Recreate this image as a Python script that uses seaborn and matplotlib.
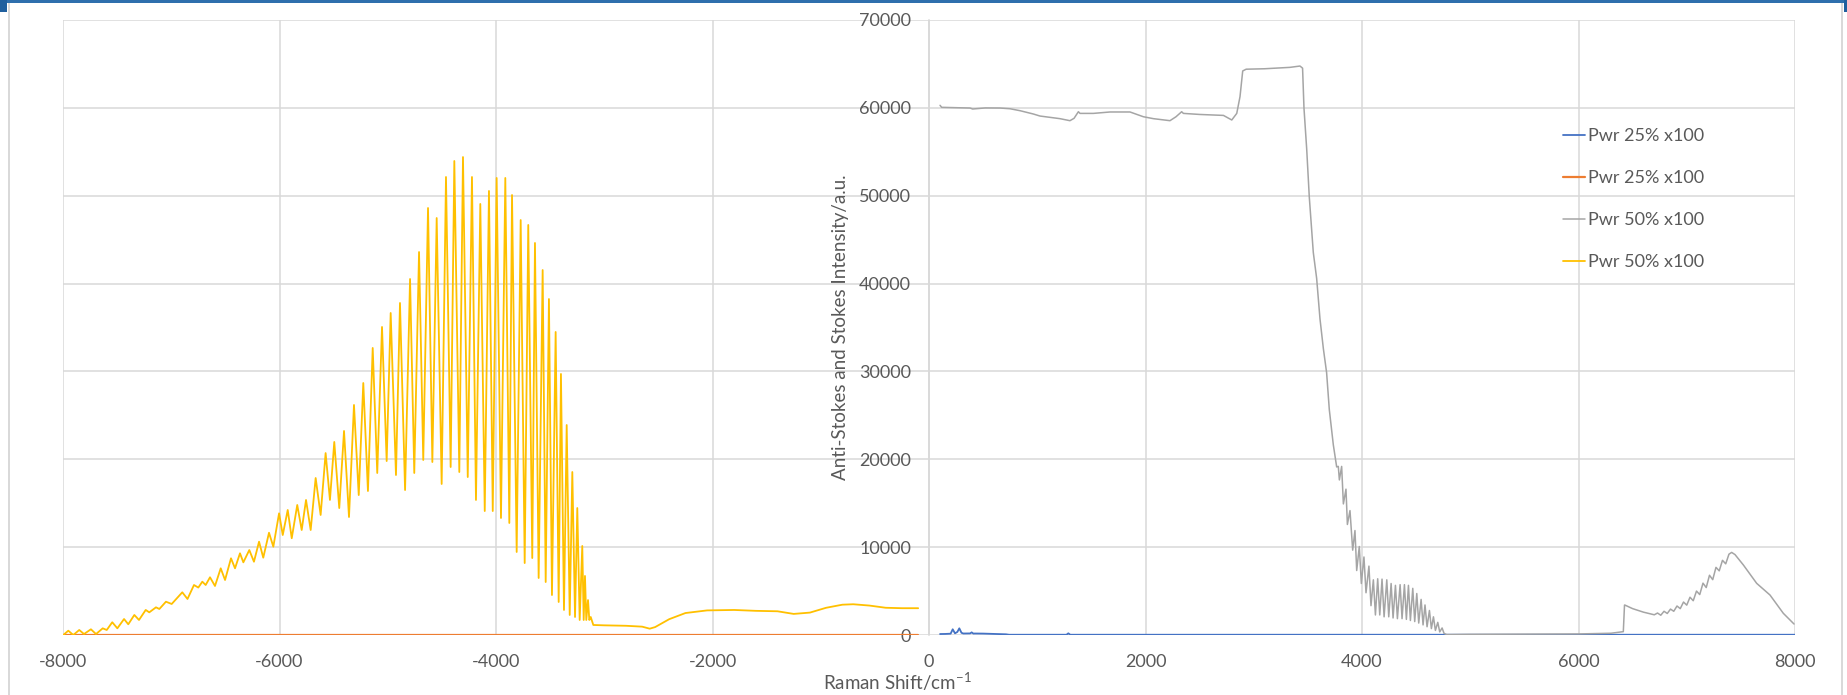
import matplotlib
matplotlib.use("Agg")
import matplotlib.pyplot as plt
import seaborn as sns
from matplotlib.patches import Rectangle

# ---- spectra (Raman shift in cm^-1, intensity in a.u.) ----
# Stokes side, power 25 %
s25_shift = [102, 150, 200, 219, 240, 262, 280, 300, 317, 380, 394, 410, 425, 500,
             711, 740, 1000, 1270, 1287, 1305, 2000, 4000, 6000, 8000]
s25_int = [110, 120, 150, 650, 190, 350, 760, 250, 170, 180, 300, 160, 170, 160,
           80, 30, 30, 30, 190, 30, 30, 30, 30, 30]

# anti-Stokes side, power 25 %
as25_shift = [-8000, -6000, -4000, -2000, -100]
as25_int = [30, 30, 30, 30, 30]

# Stokes side, power 50 %
s50_shift = [102, 117, 250, 379, 403, 520, 656, 748, 840, 964, 1025, 1210, 1302, 1340,
             1380, 1395, 1518, 1672, 1857, 1980, 2073, 2226, 2282, 2334, 2350, 2500,
             2720, 2797, 2843, 2873, 2898, 2930, 3100, 3335, 3427, 3451, 3464, 3489,
             3513, 3550, 3581, 3612, 3643, 3673, 3698, 3735, 3766, 3781, 3791, 3812,
             3828, 3852, 3865, 3889, 3914, 3935, 3951, 3975, 3994, 4018, 4037, 4064,
             4083, 4105, 4124, 4145, 4164, 4185, 4204, 4229, 4247, 4269, 4287, 4309,
             4327, 4352, 4370, 4392, 4410, 4429, 4447, 4469, 4487, 4506, 4524, 4546,
             4564, 4582, 4601, 4623, 4641, 4660, 4678, 4700, 4718, 4740, 4758, 4782,
             5000, 5500, 6000, 6122, 6300, 6414, 6425, 6430, 6500, 6600, 6700, 6730,
             6760, 6790, 6820, 6850, 6880, 6910, 6940, 6970, 7000, 7030, 7060, 7090,
             7120, 7150, 7180, 7210, 7240, 7270, 7300, 7330, 7360, 7390, 7415, 7446,
             7523, 7646, 7769, 7892, 7991]
s50_int = [60290, 60060, 60020, 59980, 59870, 59990, 59980, 59900, 59680, 59300, 59070,
           58770, 58540, 58810, 59560, 59370, 59370, 59530, 59530, 58990, 58770, 58540,
           58990, 59560, 59370, 59250, 59140, 58620, 59370, 61270, 64200, 64400, 64450,
           64610, 64760, 64520, 59970, 55340, 49870, 43550, 40600, 35970, 32600, 29870,
           25650, 21650, 19130, 19190, 17650, 19190, 14920, 16600, 12580, 14160, 9660,
           11890, 7340, 10070, 5860, 8880, 4810, 7840, 3340, 6280, 2280, 6400, 2280,
           6360, 2070, 6280, 2070, 5860, 1940, 5650, 1860, 5730, 1860, 5730, 1780, 5650,
           1650, 5310, 1530, 4720, 1360, 4050, 1150, 3420, 940, 2790, 730, 2070, 520,
           1440, 350, 800, 180, 50, 80, 100, 120, 150, 200, 380, 3410, 3400, 3000, 2600,
           2300, 2500, 2250, 2700, 2450, 2950, 2700, 3300, 3000, 3750, 3400, 4300, 3900,
           5000, 4600, 5900, 5400, 6800, 6300, 7700, 7300, 8500, 8100, 9200, 9400, 9150,
           7970, 5880, 4550, 2470, 1250]

# anti-Stokes side, power 50 %
as50_shift = [-7997, -7951, -7905, -7850, -7806, -7742, -7695, -7633, -7596, -7545,
              -7498, -7436, -7397, -7341, -7298, -7236, -7203, -7141, -7110, -7049,
              -6996, -6898, -6850, -6790, -6750, -6713, -6682, -6642, -6596, -6543,
              -6503, -6448, -6411, -6365, -6334, -6279, -6236, -6189, -6150, -6097,
              -6057, -6004, -5970, -5924, -5887, -5836, -5795, -5755, -5712, -5666,
              -5620, -5574, -5534, -5494, -5448, -5404, -5358, -5312, -5268, -5226,
              -5183, -5139, -5097, -5053, -5010, -4973, -4924, -4887, -4840, -4794,
              -4755, -4711, -4672, -4628, -4588, -4548, -4502, -4462, -4419, -4385,
              -4339, -4305, -4261, -4222, -4185, -4145, -4104, -4065, -4030, -3994,
              -3954, -3914, -3877, -3852, -3809, -3772, -3735, -3702, -3665, -3640,
              -3606, -3569, -3541, -3511, -3483, -3449, -3421, -3400, -3372, -3347,
              -3319, -3295, -3270, -3249, -3227, -3203, -3190, -3178, -3166, -3150,
              -3138, -3125, -3101, -3000, -2800, -2650, -2580, -2530, -2400, -2250,
              -2050, -1800, -1600, -1400, -1250, -1100, -950, -800, -700, -550, -400,
              -250, -100]
as50_int = [0, 490, 0, 570, 110, 650, 110, 760, 570, 1450,
            760, 1820, 1220, 2280, 1710, 2850, 2580, 3150, 2960, 3790,
            3530, 4860, 4100, 5690, 5400, 6070, 5690, 6570, 5580, 7590,
            6260, 8730, 7590, 9300, 8270, 9670, 8340, 10620, 8800, 11640,
            10050, 13850, 11380, 14230, 11010, 14800, 11950, 15370, 11950, 17870,
            13660, 20710, 15370, 21970, 14450, 23220, 13430, 26180, 15930, 28680,
            16390, 32670, 18440, 35060, 19800, 36650, 18210, 37790, 16500, 40520,
            18440, 43590, 19920, 48600, 19690, 47460, 17190, 52130, 19120, 53950,
            18550, 54400, 17980, 52130, 15370, 49060, 14110, 50540, 14110, 52020,
            13320, 52020, 12750, 50080, 9450, 47230, 8190, 46670, 8760, 44620,
            6490, 41540, 6030, 38240, 4550, 34490, 3760, 29710, 2850, 23900,
            2280, 18550, 2050, 14450, 1710, 10130, 1710, 6720, 1710, 3980,
            1710, 2050, 1140, 1100, 1050, 950, 720, 900, 1800, 2500,
            2800, 2850, 2750, 2700, 2400, 2550, 3100, 3450, 3500, 3350, 3100,
            3050, 3050]

series_labels = ["Pwr 25% x100", "Pwr 25% x100", "Pwr 50% x100", "Pwr 50% x100"]
series_colors = ["#4472C4", "#ED7D31", "#A5A5A5", "#FFC000"]

x_ticks = list(range(-8000, 8001, 2000))
y_ticks = list(range(0, 70001, 10000))

sns.set_style("white")
plt.rcParams["font.family"] = ["Lato", "DejaVu Sans"]
plt.rcParams["mathtext.fontset"] = "custom"
plt.rcParams["mathtext.rm"] = "Lato"
plt.rcParams["mathtext.default"] = "regular"

W, H = 1847, 695
fig = plt.figure(figsize=(W / 100, H / 100), dpi=100)
ax = fig.add_axes([63 / W, 60 / H, 1732 / W, 615 / H])

grid_c = "#d9d9d9"
text_c = "#595959"

data = [(s25_shift, s25_int), (as25_shift, as25_int),
        (s50_shift, s50_int), (as50_shift, as50_int)]
widths = [1.3, 1.6, 1.1, 1.3]
for (xs, ys), lab, col, lw in zip(data, series_labels, series_colors, widths):
    sns.lineplot(x=xs, y=ys, ax=ax, color=col, lw=lw, label=lab,
                 sort=False, estimator=None, solid_joinstyle="round")

ax.set_xlim(-8000, 8000)
ax.set_ylim(0, 70000)
ax.set_xticks(x_ticks)
ax.set_yticks(y_ticks)
ax.set_xticklabels([str(v) for v in x_ticks])
ax.set_yticklabels([str(v) for v in y_ticks])
ax.grid(True, color=grid_c, lw=1.1)
ax.set_axisbelow(True)

for side in ["top", "right", "bottom"]:
    ax.spines[side].set_visible(False)
ax.spines["left"].set_position(("data", 0))
ax.spines["left"].set_color(grid_c)
ax.spines["left"].set_linewidth(1.1)

ax.tick_params(axis="both", length=0, labelsize=13, labelcolor=text_c)
ax.tick_params(axis="y", pad=13)
ax.tick_params(axis="x", pad=13.5)

ax.set_xlabel("Raman Shift/cm$^{-1}$", fontsize=13.5, color=text_c)
ax.xaxis.label.set_verticalalignment("baseline")
ax.xaxis.set_label_coords(0.4815, -0.0894)
ax.set_ylabel("Anti-Stokes and Stokes Intensity/a.u.", fontsize=13.5, color=text_c)
ax.yaxis.set_label_coords(0.4537, 0.5)

leg = ax.legend(loc="upper left", bbox_to_anchor=(0.866, 0.824), frameon=False,
                handlelength=1.2, handletextpad=0.2, labelspacing=1.44,
                fontsize=13, borderpad=0, borderaxespad=0)
for t in leg.get_texts():
    t.set_color(text_c)

# chart-area frame
fig.add_artist(Rectangle((0, 1 - 3 / H), 1, 3 / H, transform=fig.transFigure,
                         color="#2e6fad", lw=0))
fig.add_artist(Rectangle((0, 1 - 12 / H), 7 / W, 12 / H, transform=fig.transFigure,
                         color="#1f5f9e", lw=0))
fig.add_artist(Rectangle((1 - 3 / W, 1 - 12 / H), 3 / W, 12 / H,
                         transform=fig.transFigure, color="#1f5f9e", lw=0))
fig.add_artist(Rectangle((8 / W, 0), 1.5 / W, 1 - 3 / H, transform=fig.transFigure,
                         color=grid_c, lw=0))
fig.add_artist(Rectangle((1841 / W, 0), 1.5 / W, 1 - 3 / H, transform=fig.transFigure,
                         color=grid_c, lw=0))

fig.savefig("out.png", dpi=100)
